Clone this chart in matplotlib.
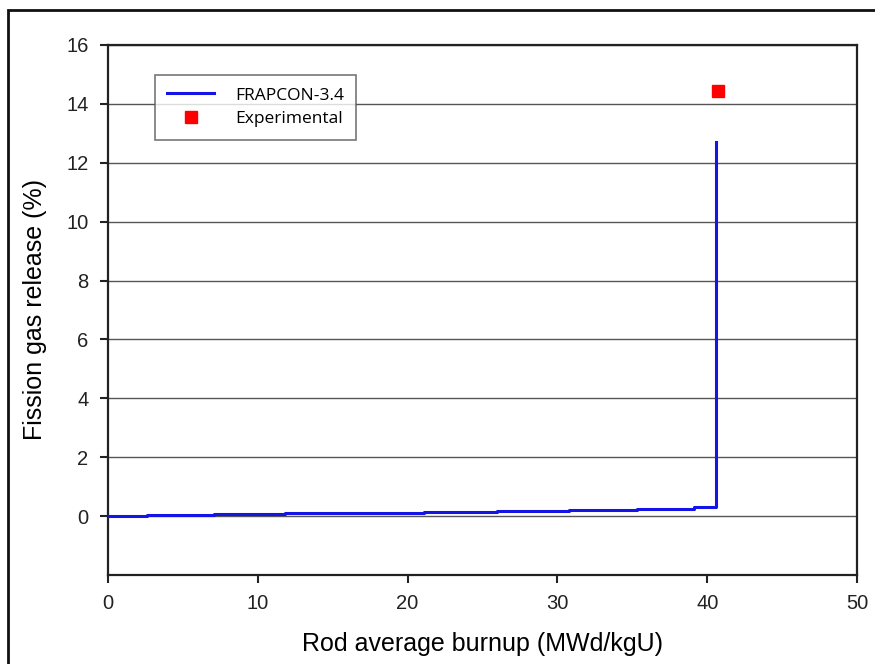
import matplotlib
matplotlib.use("Agg")
import matplotlib.pyplot as plt
from matplotlib.patches import Rectangle

# FRAPCON-3.4 calculation (step line)
burnup_calc = [0.0, 2.6, 7.1, 11.8, 16.5, 21.1, 26.0, 30.8, 35.3, 39.1, 40.6, 40.6]
fgr_calc = [0.0, 0.03, 0.06, 0.09, 0.12, 0.15, 0.18, 0.21, 0.25, 0.30, 0.35, 12.7]

# Experimental
burnup_exp = [40.7]
fgr_exp = [14.45]

xticks = [0, 10, 20, 30, 40, 50]
yticks = [0, 2, 4, 6, 8, 10, 12, 14, 16]

plt.rcParams['font.family'] = ['Liberation Sans', 'DejaVu Sans']

fig = plt.figure(figsize=(8.75, 6.64), dpi=100)
ax = fig.add_axes([108/875, 1-575/664, (857-108)/875, (575-45)/664])

ax.step(burnup_calc, fgr_calc, where='post', color='#1414e6', lw=2.2, label='FRAPCON-3.4', zorder=3)
ax.plot(burnup_exp, fgr_exp, 's', color='#ff0000', ms=9, ls='none', label='Experimental', zorder=4)

ax.set_xlim(0, 50)
ax.set_ylim(-2, 16)
ax.set_xticks(xticks)
ax.set_yticks(yticks)
ax.yaxis.grid(True, color='#555555', lw=1)
ax.set_axisbelow(True)
for s in ax.spines.values():
    s.set_linewidth(1.6)
    s.set_color('#222222')
ax.tick_params(direction='out', length=6, width=1.5, labelsize=14.5, pad=8, colors='#222222')

ax.set_xlabel('Rod average burnup (MWd/kgU)', fontsize=18, labelpad=13)
ax.set_ylabel('Fission gas release (%)', fontsize=18, labelpad=14)

leg = ax.legend(loc='upper left', bbox_to_anchor=(0.063, 0.943), borderaxespad=0, frameon=True,
                fancybox=False, edgecolor='#555555', prop={'family': 'Open Sans', 'size': 12.5},
                handlelength=2.7, borderpad=0.7, labelspacing=0.45, handletextpad=1.2)
leg.get_frame().set_linewidth(1.2)

fig.patches.append(Rectangle((8/875, -0.1), 1.2, 1.1 - 10/664, transform=fig.transFigure,
                             fill=False, edgecolor='#111111', lw=2))

fig.savefig('out.png', dpi=100)
